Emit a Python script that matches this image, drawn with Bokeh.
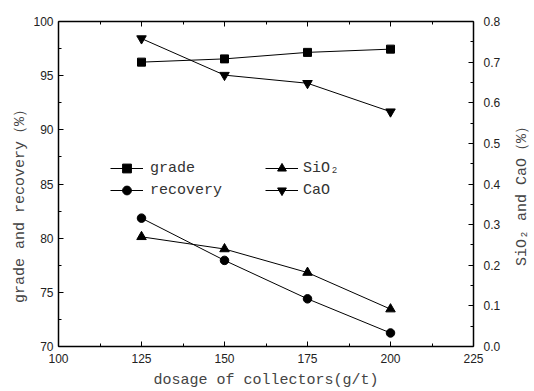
import math
from bokeh.plotting import figure
from bokeh.layouts import row
from bokeh.models import (LinearAxis, Range1d, Legend, LegendItem, FixedTicker,
                          PrintfTickFormatter, Label)
from bokeh.embed import file_html
from bokeh.resources import INLINE

dosage = [125, 150, 175, 200]
grade = [96.25, 96.55, 97.15, 97.45]
recovery = [81.85, 77.95, 74.4, 71.25]
sio2 = [0.270, 0.240, 0.182, 0.092]
cao = [0.758, 0.668, 0.648, 0.578]

x_ticks = [100, 125, 150, 175, 200, 225]
left_ticks = [70, 75, 80, 85, 90, 95, 100]
right_ticks = [0.0, 0.1, 0.2, 0.3, 0.4, 0.5, 0.6, 0.7, 0.8]

x_title = "dosage of collectors(g/t)"
left_title = "grade and recovery（%）"
right_title = "SiO₂ and CaO（%）"

LABEL_FONT = "Liberation Mono"
TICK_FONT = "Liberation Sans"
H = 391

p = figure(width=482, height=H, output_backend="svg", toolbar_location=None,
           x_range=Range1d(100, 225), y_range=Range1d(70, 100),
           min_border_left=28, min_border_right=39, min_border_top=21, min_border_bottom=45,
           x_axis_label=x_title)
p.extra_y_ranges = {"r": Range1d(0, 0.8)}
p.grid.visible = False
p.outline_line_color = None
p.background_fill_color = "white"


def style(ax, ticks, minor):
    ax.ticker = FixedTicker(ticks=ticks, minor_ticks=minor)
    ax.axis_line_width = 1.5
    ax.axis_line_color = "black"
    ax.major_tick_in = 5
    ax.major_tick_out = 0
    ax.minor_tick_in = 3
    ax.minor_tick_out = 0
    ax.major_tick_line_color = "black"
    ax.minor_tick_line_color = "black"
    ax.major_label_text_font = TICK_FONT
    ax.major_label_text_font_size = "12px"
    ax.major_label_text_color = "#222222"
    ax.major_label_standoff = 5
    ax.axis_label_text_font = LABEL_FONT
    ax.axis_label_text_font_size = "15px"
    ax.axis_label_text_font_style = "normal"
    ax.axis_label_text_color = "#444444"


x_minor = [112.5, 137.5, 162.5, 187.5, 212.5]
l_minor = [72.5, 77.5, 82.5, 87.5, 92.5, 97.5]
r_minor = [0.05, 0.15, 0.25, 0.35, 0.45, 0.55, 0.65, 0.75]

style(p.xaxis[0], x_ticks, x_minor)
style(p.yaxis[0], left_ticks, l_minor)
p.xaxis[0].major_label_standoff = 7
p.xaxis[0].axis_label_standoff = 6

ax_r = LinearAxis(y_range_name="r", formatter=PrintfTickFormatter(format="%.1f"))
style(ax_r, right_ticks, r_minor)
ax_r.major_label_standoff = 10
p.add_layout(ax_r, "right")

ax_t = LinearAxis()
style(ax_t, x_ticks, x_minor)
ax_t.major_label_overrides = {t: "" for t in x_ticks}
ax_t.major_label_standoff = 0
p.add_layout(ax_t, "above")

kw = dict(line_color="black", line_width=1)
l1 = p.line(dosage, grade, **kw)
m1 = p.scatter(dosage, grade, marker="square", size=8, color="black")
l2 = p.line(dosage, recovery, **kw)
m2 = p.scatter(dosage, recovery, marker="circle", size=8.5, color="black")
l3 = p.line(dosage, sio2, y_range_name="r", **kw)
m3 = p.scatter(dosage, sio2, marker="triangle", size=9.5, color="black", y_range_name="r")
l4 = p.line(dosage, cao, y_range_name="r", **kw)
m4 = p.scatter(dosage, cao, marker="inverted_triangle", size=9.5, color="black", y_range_name="r")


def make_legend(items, loc, standoff):
    lg = Legend(items=items, location=loc, padding=0, margin=0, spacing=0,
                border_line_alpha=0, background_fill_alpha=0,
                glyph_width=33, glyph_height=22, label_height=22,
                label_standoff=standoff, label_text_font=LABEL_FONT,
                label_text_font_size="15px", label_text_color="#333333")
    p.add_layout(lg, "center")


make_legend([LegendItem(label="grade", renderers=[l1, m1]),
             LegendItem(label="recovery", renderers=[l2, m2])], (52, 145), 7)
make_legend([LegendItem(label="SiO₂", renderers=[l3, m3]),
             LegendItem(label="CaO", renderers=[l4, m4])], (207, 145), 5)


# narrow side strips that hold the rotated axis titles (reading bottom-to-top)
def title_strip(w, text, x, y):
    f = figure(width=w, height=H, output_backend="svg", toolbar_location=None,
               x_axis_type=None, y_axis_type=None, title=None,
               min_border_left=0, min_border_right=0, min_border_top=0, min_border_bottom=0,
               x_range=Range1d(0, 1), y_range=Range1d(0, 1))
    f.grid.visible = False
    f.outline_line_color = None
    f.add_layout(Label(x=x, y=y, x_units="screen", y_units="screen", text=text,
                       angle=math.pi / 2, text_align="center", text_baseline="middle",
                       text_font=LABEL_FONT, text_font_size="15px", text_color="#444444"))
    return f


fl = title_strip(30, left_title, 20, 144)
fr = title_strip(22, right_title, 10, 154)

layout = row(fl, p, fr, spacing=0)
open("out.html", "w").write(file_html(layout, INLINE))
